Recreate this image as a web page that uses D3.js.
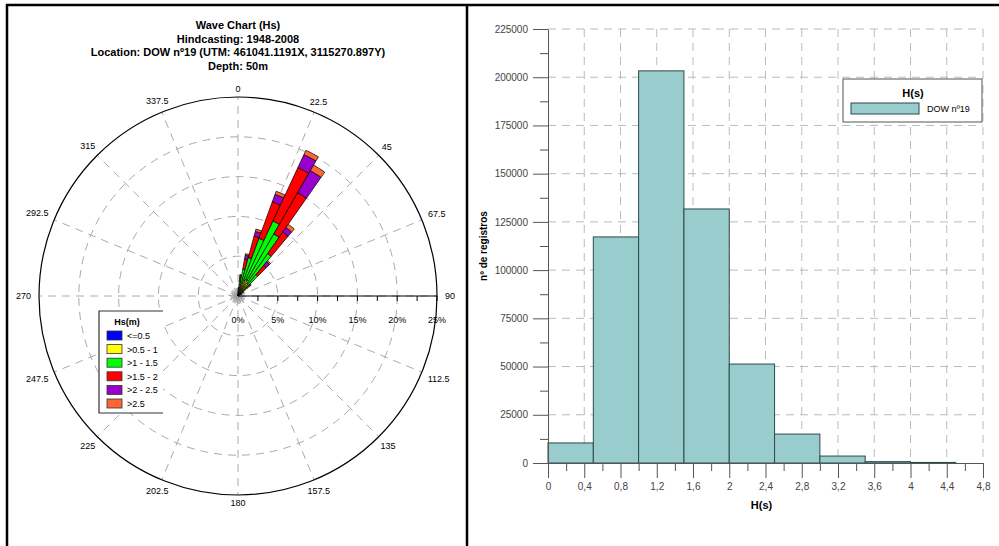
<!DOCTYPE html>
<html>
<head>
<meta charset="utf-8">
<script src="https://cdnjs.cloudflare.com/ajax/libs/d3/7.8.5/d3.min.js"></script>
<style>
  body { margin: 0; background: #fff; }
  text { font-family: "Liberation Sans", Arial, sans-serif; }
</style>
</head>
<body>
<svg id="chart" width="999" height="546"></svg>
<script>
// ---- Wave rose data (% of records per 5 deg sector, by Hs class) ----
const roseDirs   = [2.5, 7.5, 12.5, 17.5, 22.5, 27.5, 32.5, 37.5, 42.5, 47.5, 52.5, 57.5];
const hsLt05     = [0.1, 0.2, 0.2, 0.3, 0.3, 0.3, 0.3, 0.3, 0.2, 0.2, 0.1, 0.1];
const hs05to1    = [0.4, 0.8, 1.2, 1.5, 1.8, 2.0, 2.0, 1.7, 1.1, 0.6, 0.3, 0.2];
const hs1to15    = [0.3, 0.9, 2.0, 3.2, 5.6, 8.1, 6.7, 4.5, 2.2, 0.7, 0.3, 0.1];
const hs15to2    = [0.2, 0.5, 1.3, 2.8, 4.9, 7.4, 6.0, 3.3, 1.5, 0.4, 0.1, 0.05];
const hs2to25    = [0.05, 0.2, 0.5, 0.6, 1.0, 1.8, 3.2, 0.7, 0.6, 0.2, 0.05, 0.02];
const hsGt25     = [0.02, 0.1, 0.2, 0.3, 0.4, 0.6, 0.8, 0.5, 0.2, 0.05, 0.02, 0.01];
// tiny sectors elsewhere (the grey star at the centre)
const minorDirs  = [65, 80, 95, 110, 125, 140, 155, 170, 185, 200, 215, 230, 245, 260, 275, 290, 305, 320, 335, 350];
const minorVals  = [0.9, 0.8, 1.0, 0.7, 0.9, 1.1, 0.8, 1.0, 1.2, 0.9, 1.0, 0.8, 1.1, 0.9, 1.2, 0.8, 1.0, 0.9, 1.1, 1.0];

const hsClasses  = ["<=0.5", ">0.5 - 1", ">1 - 1.5", ">1.5 - 2", ">2 - 2.5", ">2.5"];
const hsColors   = ["#0000ff", "#ffff00", "#00ff00", "#ff0000", "#9900cc", "#ff6633"];
const angleLabels = ["0", "22.5", "45", "67.5", "90", "112.5", "135", "157.5", "180",
                     "202.5", "225", "247.5", "270", "292.5", "315", "337.5"];
const ringPct    = [5, 10, 15, 20, 25];
const titleLines = ["Wave Chart (Hs)", "Hindcasting: 1948-2008",
                    "Location: DOW n\u00ba19 (UTM: 461041.1191X, 3115270.897Y)", "Depth: 50m"];

// ---- Histogram data ----
const binStart  = [0, 0.5, 1.0, 1.5, 2.0, 2.5, 3.0, 3.5, 4.0];
const binCount  = [10400, 117200, 203300, 131700, 51300, 15000, 3600, 700, 300];
const yTicks    = [0, 25000, 50000, 75000, 100000, 125000, 150000, 175000, 200000, 225000];
const xTicks    = [0, 0.4, 0.8, 1.2, 1.6, 2, 2.4, 2.8, 3.2, 3.6, 4, 4.4, 4.8];

const svg = d3.select("#chart");

// ---- frame ----
svg.append("line").attr("x1", 6).attr("x2", 999).attr("y1", 5).attr("y2", 5)
  .attr("stroke", "#000").attr("stroke-width", 2.5);
[7, 467].forEach(x => {
  svg.append("line").attr("x1", x).attr("x2", x).attr("y1", 4).attr("y2", 546)
    .attr("stroke", "#000").attr("stroke-width", 2.5);
});

// ================= ROSE =================
const cx = 238, cy = 296;
const r = d3.scaleLinear().domain([0, 25]).range([0, 199]);
const rose = svg.append("g").attr("transform", `translate(${cx},${cy})`);

// titles
titleLines.forEach((t, i) => {
  svg.append("text").attr("x", cx).attr("y", 29 + i * 13.5)
    .attr("text-anchor", "middle").style("font-size", "11px").style("font-weight", "bold")
    .text(t);
});

// dashed rings
rose.selectAll("circle.ring").data(ringPct.slice(0, -1)).enter().append("circle")
  .attr("r", d => r(d)).attr("fill", "none")
  .attr("stroke", "#aaa").attr("stroke-dasharray", "8,6");

// radial dashed spokes
rose.selectAll("line.spoke").data(d3.range(16)).enter().append("line")
  .attr("x1", 0).attr("y1", 0)
  .attr("x2", i => r(25) * Math.sin(i * 22.5 * Math.PI / 180))
  .attr("y2", i => -r(25) * Math.cos(i * 22.5 * Math.PI / 180))
  .attr("stroke", "#aaa").attr("stroke-dasharray", "8,6");

// outer circle
rose.append("circle").attr("r", r(25)).attr("fill", "none").attr("stroke", "#000").attr("stroke-width", 1.2);

// angle labels
rose.selectAll("text.ang").data(angleLabels).enter().append("text")
  .style("font-size", "9px").attr("text-anchor", "middle").attr("dy", "0.35em")
  .text(d => d)
  .each(function (d, i) {
    const a = i * 22.5 * Math.PI / 180;
    const w = this.getComputedTextLength();
    const R = r(25) + 8 + Math.abs(Math.sin(a)) * w / 2;
    d3.select(this).attr("x", R * Math.sin(a)).attr("y", -R * Math.cos(a));
  });

// tiny sectors
const arc = d3.arc();
rose.selectAll("path.minor").data(minorDirs).enter().append("path")
  .attr("d", (d, i) => arc({ innerRadius: 0, outerRadius: r(minorVals[i]),
    startAngle: (d - 1.5) * Math.PI / 180, endAngle: (d + 1.5) * Math.PI / 180 }))
  .attr("fill", "#eee").attr("stroke", "#999").attr("stroke-width", 0.6);

// stacked petals
const classVals = [hsLt05, hs05to1, hs1to15, hs15to2, hs2to25, hsGt25];
roseDirs.forEach((dir, i) => {
  let cum = 0;
  classVals.forEach((vals, k) => {
    const v = vals[i];
    rose.append("path")
      .attr("d", arc({ innerRadius: r(cum), outerRadius: r(cum + v),
        startAngle: (dir - 2.5) * Math.PI / 180, endAngle: (dir + 2.5) * Math.PI / 180 }))
      .attr("fill", hsColors[k]).attr("stroke", "#000").attr("stroke-width", 0.7);
    cum += v;
  });
});

// radial axis along 90 deg
const rAxis = rose.append("g");
rAxis.append("line").attr("x1", 0).attr("x2", r(25)).attr("y1", 0).attr("y2", 0)
  .attr("stroke", "#000").attr("stroke-width", 1.2);
rAxis.selectAll("line.tk").data(d3.range(2.5, 25.01, 2.5)).enter().append("line")
  .attr("x1", d => r(d)).attr("x2", d => r(d)).attr("y1", 0).attr("y2", 5)
  .attr("stroke", "#000");
rAxis.selectAll("text").data([0].concat(ringPct)).enter().append("text")
  .attr("x", d => r(d)).attr("y", 27).attr("text-anchor", "middle")
  .style("font-size", "9px").text(d => d + "%");

// rose legend
const lg = svg.append("g").attr("transform", "translate(99,311)");
lg.append("rect").attr("width", 64).attr("height", 102).attr("fill", "#fff");
lg.append("path").attr("d", "M64,0H0V102H64").attr("fill", "none").attr("stroke", "#333").attr("stroke-width", 1.2);
lg.append("text").attr("x", 28).attr("y", 14).attr("text-anchor", "middle")
  .style("font-size", "9px").style("font-weight", "bold").text("Hs(m)");
hsClasses.forEach((c, i) => {
  const y = 20 + i * 13.6;
  lg.append("rect").attr("x", 8).attr("y", y).attr("width", 15).attr("height", 9)
    .attr("fill", hsColors[i]).attr("stroke", "#333").attr("stroke-width", 0.8);
  lg.append("text").attr("x", 28).attr("y", y + 8).style("font-size", "9px").text(c);
});

// ================= HISTOGRAM =================
const x = d3.scaleLinear().domain([0, 4.8]).range([548, 983]);
const y = d3.scaleLinear().domain([0, 225000]).range([463, 29]);
const hist = svg.append("g");

// grid
hist.selectAll("line.vg").data(xTicks.slice(1)).enter().append("line")
  .attr("x1", d => x(d)).attr("x2", d => x(d)).attr("y1", y(225000)).attr("y2", y(0))
  .attr("stroke", "#bbb").attr("stroke-dasharray", "8,6");
hist.selectAll("line.hg").data(yTicks.slice(1)).enter().append("line")
  .attr("x1", x(0)).attr("x2", x(4.8)).attr("y1", d => y(d)).attr("y2", d => y(d))
  .attr("stroke", "#bbb").attr("stroke-dasharray", "8,6");

// bars
hist.selectAll("rect.bar").data(binStart).enter().append("rect")
  .attr("x", d => x(d)).attr("width", d => x(d + 0.5) - x(d))
  .attr("y", (d, i) => y(binCount[i])).attr("height", (d, i) => y(0) - y(binCount[i]))
  .attr("fill", "#99cccc").attr("stroke", "#2b4a4a").attr("stroke-width", 1);

// axes
const fmtComma = d => String(Math.round(d * 10) / 10).replace(".", ",");
const yAx = hist.append("g").attr("transform", `translate(${x(0)},0)`)
  .call(d3.axisLeft(y).tickValues(yTicks).tickSize(15).tickSizeOuter(0).tickPadding(5).tickFormat(d3.format("d")));
const yMin = hist.append("g").attr("transform", `translate(${x(0)},0)`)
  .call(d3.axisLeft(y).tickValues(d3.range(12500, 225000, 25000)).tickSize(8).tickSizeOuter(0).tickFormat(""));
const xAx = hist.append("g").attr("transform", `translate(0,${y(0)})`)
  .call(d3.axisBottom(x).tickValues(xTicks).tickSize(15).tickSizeOuter(0).tickPadding(5).tickFormat(fmtComma));
const xMin = hist.append("g").attr("transform", `translate(0,${y(0)})`)
  .call(d3.axisBottom(x).tickValues(d3.range(0.2, 4.8, 0.4)).tickSize(8).tickSizeOuter(0).tickFormat(""));
[yAx, yMin, xAx, xMin].forEach(g => {
  g.selectAll("path,line").attr("stroke", "#555");
  g.selectAll("text").style("font-size", "10px").attr("fill", "#444")
    .style("font-family", '"Liberation Sans", Arial, sans-serif');
});
yMin.select(".domain").remove();
xMin.select(".domain").remove();

// axis titles
svg.append("text").attr("x", x(2.4) - 4).attr("y", 509).attr("text-anchor", "middle")
  .style("font-size", "11px").style("font-weight", "bold").text("H(s)");
svg.append("text").attr("transform", "translate(487,246) rotate(-90)").attr("text-anchor", "middle")
  .style("font-size", "10px").style("font-weight", "bold").text("n\u00ba de registros");

// histogram legend
const hl = svg.append("g").attr("transform", "translate(843,79)");
hl.append("rect").attr("width", 139).attr("height", 43).attr("fill", "#fff")
  .attr("stroke", "#555").attr("stroke-width", 1);
hl.append("text").attr("x", 70).attr("y", 18).attr("text-anchor", "middle")
  .style("font-size", "11px").style("font-weight", "bold").text("H(s)");
hl.append("rect").attr("x", 8).attr("y", 24).attr("width", 68).attr("height", 11)
  .attr("fill", "#99cccc").attr("stroke", "#2b4a4a");
hl.append("text").attr("x", 84).attr("y", 33).style("font-size", "9px").text("DOW n\u00ba19");
</script>
</body>
</html>
